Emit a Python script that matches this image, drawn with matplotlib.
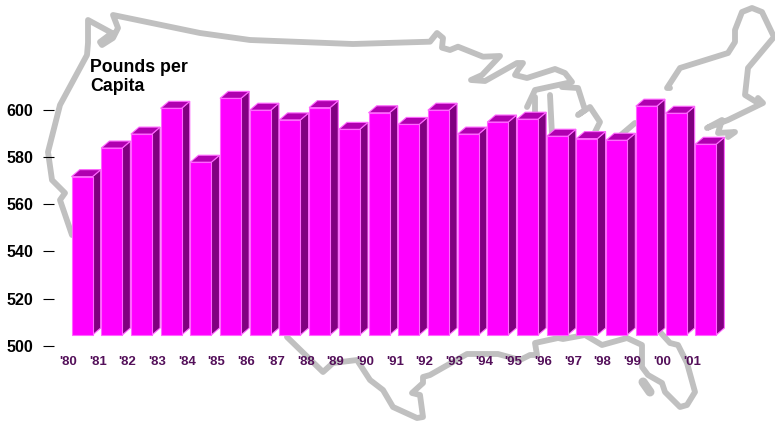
import matplotlib
matplotlib.use('Agg')
import matplotlib.pyplot as plt

plt.rcParams['font.family'] = ['Liberation Sans', 'DejaVu Sans']

# Pounds per capita
years = ["'80", "'81", "'82", "'83", "'84", "'85", "'86", "'87", "'88", "'89", "'90",
         "'91", "'92", "'93", "'94", "'95", "'96", "'97", "'98", "'99", "'00", "'01"]
pounds = [571.6, 583.7, 589.6, 600.5, 577.7, 604.7, 599.7, 595.6, 600.8, 591.6, 598.6,
          593.7, 599.7, 589.6, 594.7, 595.9, 588.7, 587.7, 587.0, 601.4, 598.4, 585.3]
y_ticks = [500, 520, 540, 560, 580, 600]

# Outline of the US behind the bars, pixel coordinates of the picture
map_north = [(72, 235), (60, 200), (65, 193), (52, 180), (48, 152), (60, 105), (87, 55),
             (88, 43), (88, 20), (112, 33), (100, 42), (102, 45), (113, 38), (118, 28),
             (113, 15), (200, 33), (250, 40), (353, 44), (430, 41.7), (437, 33), (443, 38),
             (442, 47.7), (450, 50), (458, 46.7), (483, 56.7), (500, 56), (482, 75),
             (471, 80), (485, 81), (517, 63), (523, 63), (518, 70), (515, 75), (527, 78),
             (555, 69), (565, 73), (572, 82), (535, 90), (527, 107)]
map_green_bay = [(535, 97), (535, 115)]
map_michigan = [(550, 95), (552, 135)]
map_lower_mich = [(562, 87), (578, 88), (585, 110), (578, 115), (590, 107), (600, 122), (595, 132)]
map_erie = [(615, 140), (635, 123)]
map_north_east = [(670, 88), (667, 88), (680, 68), (728, 53), (735, 42), (735, 30), (742, 12),
                  (752, 8), (762, 12), (774, 37), (748, 68), (745, 95), (758, 103), (758, 98),
                  (763, 103), (728, 120), (707, 128), (722, 120), (718, 133), (735, 132), (728, 137)]
map_south = [(287, 337), (323, 372), (333, 363), (357, 360), (370, 380), (383, 390), (393, 407),
             (417, 418), (423, 417), (420, 395), (412, 393), (423, 383), (423, 377), (430, 375),
             (467, 354), (498, 354), (520, 360), (530, 355), (537, 355), (535, 343), (558, 338),
             (563, 339), (585, 335), (602, 345), (627, 338), (642, 345), (642, 367), (648, 375),
             (662, 383), (665, 392), (680, 407), (687, 405), (695, 392), (687, 363), (678, 345),
             (670, 343), (660, 332)]
map_lake = [(643, 382), (650, 392)]
map_parts = [map_north, map_green_bay, map_michigan, map_lower_mich, map_erie,
             map_north_east, map_south, map_lake]

W, H = 775, 421
STEP = 29.7       # px between bars
PX_PER_LB = 2.365
BASE = 504.65     # the front faces stand a little above the axis floor
bar_w = 21 / STEP
depth_x = 8.2 / STEP
depth_y = 7 / PX_PER_LB

fig = plt.figure(figsize=(W / 100, H / 100), dpi=100)

# map layer
bg = fig.add_axes([0, 0, 1, 1], zorder=0)
bg.set_xlim(0, W)
bg.set_ylim(H, 0)
bg.axis('off')
for part in map_parts:
    xs = [p[0] for p in part]
    ys = [p[1] for p in part]
    lw = 6.5 if part is map_lake else 4.2
    bg.plot(xs, ys, color='#c0c0c0', lw=lw, solid_capstyle='round', solid_joinstyle='round')

# chart layer, floor at y=346 px and left edge at x=54 px
ax = fig.add_axes([54 / W, (H - 346) / H, (W - 54) / W, 346 / H], zorder=1)
ax.patch.set_alpha(0)
ax.set_xlim((54 - 82) / STEP, (W - 82) / STEP)
ax.set_ylim(500, 500 + 346 / PX_PER_LB)
for s in ax.spines.values():
    s.set_visible(False)

for i, v in enumerate(pounds):
    l = i - bar_w / 2
    r = i + bar_w / 2
    ax.fill([r, r + depth_x, r + depth_x, r],
            [BASE, BASE + depth_y, v + depth_y, v],
            facecolor='#800080', edgecolor='#ff66ff', lw=0.8, zorder=2)
    ax.fill([l, l + depth_x, r + depth_x, r],
            [v, v + depth_y, v + depth_y, v],
            facecolor='#b000b0', edgecolor='#ff66ff', lw=0.8, zorder=2)
ax.bar(range(len(pounds)), [v - BASE for v in pounds], width=bar_w, bottom=BASE,
       color='#ff00ff', edgecolor='#ff66ff', lw=0.8, zorder=3)

ax.set_yticks(y_ticks)
ax.tick_params(axis='y', length=8, width=0.8, color='black', pad=7, labelsize=11.6)
for t in ax.get_yticklabels():
    t.set_fontweight('bold')

# year labels sit left of their bars
ax.set_xticks([i - 14 / STEP for i in range(len(years))])
ax.set_xticklabels(years, fontsize=9.5, fontweight='bold', color='#54105a')
ax.tick_params(axis='x', length=0, pad=7)

fig.text(90 / W, 1 - 59 / H, 'Pounds per\nCapita', fontsize=12.8, fontweight='bold',
         va='top', ha='left', linespacing=1.12, zorder=5)

fig.savefig('out.png', dpi=100)
